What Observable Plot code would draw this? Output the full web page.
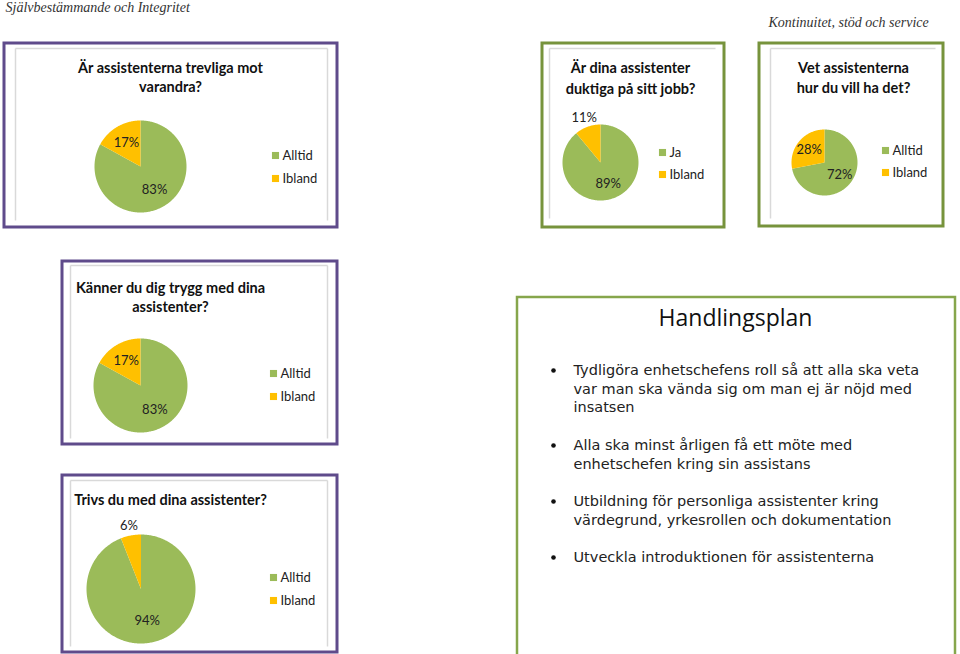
<!DOCTYPE html>
<html><head><meta charset="utf-8">
<script src="https://cdn.jsdelivr.net/npm/d3@7"></script>
<script src="https://cdn.jsdelivr.net/npm/@observablehq/plot@0.6"></script>
<style>body{margin:0;background:#fff;overflow:hidden}</style>
</head><body><div id="chart"></div>
<script>
// ---------- DATA ----------
const sectionHeaders = ["Självbestämmande och Integritet", "Kontinuitet, stöd och service"];
const questionTitles = [
  ["Är assistenterna trevliga mot", "varandra?"],
  ["Är dina assistenter", "duktiga på sitt jobb?"],
  ["Vet assistenterna", "hur du vill ha det?"],
  ["Känner du dig trygg med dina", "assistenter?"],
  ["Trivs du med dina assistenter?"]
];
const answerCategories = [
  ["Alltid", "Ibland"],
  ["Ja", "Ibland"],
  ["Alltid", "Ibland"],
  ["Alltid", "Ibland"],
  ["Alltid", "Ibland"]
];
const answerValues = [
  [83, 17],
  [89, 11],
  [72, 28],
  [83, 17],
  [94, 6]
];
const planTitle = "Handlingsplan";
const planItems = [
  ["Tydligöra enhetschefens roll så att alla ska veta", "var man ska vända sig om man ej är nöjd med", "insatsen"],
  ["Alla ska minst årligen få ett möte med", "enhetschefen kring sin assistans"],
  ["Utbildning för personliga assistenter kring", "värdegrund, yrkesrollen och dokumentation"],
  ["Utveckla introduktionen för assistenterna"]
];

// ---------- LAYOUT & STYLE ----------
const W = 960, H = 654;
const purple = "#5F4B8B", olive = "#77933C";
const sliceColors = ["#9BBB59", "#FFC000"];
const panels = [
  {frame: [4, 43, 337, 227], inner: [15, 48, 327, 220], grayRight: true, border: purple, cx: 140, cy: 166, r: 46, titleX: 170, titleY: [68, 87], legX: 275, legY: [155, 178]},
  {frame: [542, 43, 724, 227], inner: [549, 48, 715, 218], grayRight: false, border: olive, cx: 600, cy: 162, r: 38, titleX: 630, titleY: [68, 89], legX: 662, legY: [152, 174]},
  {frame: [759, 43, 943, 226], inner: [770, 48, 935, 218], grayRight: false, border: olive, cx: 824, cy: 162, r: 33, titleX: 853, titleY: [68, 88], legX: 885, legY: [150, 172]},
  {frame: [62, 261, 337, 444], inner: [70, 265, 327, 438], grayRight: true, border: purple, cx: 140, cy: 385, r: 47, titleX: 170, titleY: [288, 307], legX: 273, legY: [373, 396]},
  {frame: [62, 475, 337, 652], inner: [70, 480, 327, 646], grayRight: true, border: purple, cx: 140.5, cy: 588.5, r: 54.5, titleX: 170, titleY: [500], legX: 273, legY: [577, 600]}
];
const planBox = {frame: [517, 297, 955, 662], titleX: 735, titleY: 318, bulletX: 553, textX: 573, itemY: [370, 445, 501, 557], lineStep: 18.6};

// ---------- BUILD ROWS ----------
const pieFn = d3.pie().sort(null).value(d => d);
const sliceRows = [], labelRows = [], legendRows = [], titleRows = [], grayRows = [];
panels.forEach((p, i) => {
  const arcs = pieFn(answerValues[i]);
  arcs.forEach((a, j) => {
    const id = i + "-" + j;
    const steps = Math.max(2, Math.ceil((a.endAngle - a.startAngle) / (Math.PI / 180)));
    sliceRows.push({id, x: p.cx, y: p.cy, color: sliceColors[j]});
    for (let k = 0; k <= steps; k++) {
      const t = a.startAngle + (a.endAngle - a.startAngle) * k / steps;
      sliceRows.push({id, x: p.cx + p.r * Math.sin(t), y: p.cy - p.r * Math.cos(t), color: sliceColors[j]});
    }
    const mid = (a.startAngle + a.endAngle) / 2;
    const rr = a.data < 12 ? p.r + 10 : p.r * 0.6;
    labelRows.push({x: p.cx + rr * Math.sin(mid), y: p.cy - rr * Math.cos(mid), text: a.data + "%"});
    legendRows.push({x: p.legX, y: p.legY[j], color: sliceColors[j], text: answerCategories[i][j]});
  });
  questionTitles[i].forEach((line, k) => titleRows.push({x: p.titleX, y: p.titleY[k], text: line}));
  const [x1, y1, x2, y2] = p.inner;
  grayRows.push({x1, y1, x2, y2: y1});
  grayRows.push({x1, y1, x2: x1, y2});
  if (p.grayRight) grayRows.push({x1: x2, y1, x2, y2});
});
const planRows = [], bulletRows = [];
planItems.forEach((lines, i) => {
  bulletRows.push({x: planBox.bulletX, y: planBox.itemY[i]});
  lines.forEach((t, k) => planRows.push({x: planBox.textX, y: planBox.itemY[i] + k * planBox.lineStep, text: t}));
});
const headerRows = [
  {x: 5, y: 7, text: sectionHeaders[0], anchor: "start"},
  {x: 768, y: 22, text: sectionHeaders[1], anchor: "start"}
];

// ---------- PLOT ----------
const chart = Plot.plot({
  width: W, height: H, margin: 0,
  x: {domain: [0, W], range: [0, W], axis: null},
  y: {domain: [0, H], range: [0, H], axis: null},
  color: {type: "identity"},
  style: {background: "#fff", overflow: "hidden"},
  marks: [
    Plot.rect(panels, {x1: p => p.frame[0], y1: p => p.frame[1], x2: p => p.frame[2], y2: p => p.frame[3], fill: "white", stroke: p => p.border, strokeWidth: 3}),
    Plot.rect([planBox], {x1: p => p.frame[0], y1: p => p.frame[1], x2: p => p.frame[2], y2: p => p.frame[3], fill: "white", stroke: "#86A64C", strokeWidth: 2.5}),
    Plot.link(grayRows, {x1: "x1", y1: "y1", x2: "x2", y2: "y2", stroke: "#D9D9D9", strokeWidth: 1.5}),
    Plot.line(sliceRows, {x: "x", y: "y", z: "id", fill: "color", stroke: null, curve: "linear-closed"}),
    Plot.text(labelRows, {x: "x", y: "y", text: "text", fontSize: 13, fontFamily: "Lato", fill: "#222"}),
    Plot.dot(legendRows, {x: "x", y: "y", symbol: "square", r: 4, fill: "color", stroke: null}),
    Plot.text(legendRows, {x: d => d.x + 7, y: "y", text: "text", textAnchor: "start", fontSize: 13, fontFamily: "Lato", fill: "#222"}),
    Plot.text(titleRows, {x: "x", y: "y", text: "text", fontSize: 14.5, fontWeight: "bold", fontFamily: "Lato", fill: "#111"}),
    Plot.text(headerRows, {x: "x", y: "y", text: "text", textAnchor: "start", fontSize: 14, fontStyle: "italic", fontFamily: "Liberation Serif", fill: "#333"}),
    Plot.text([planTitle], {x: planBox.titleX, y: planBox.titleY, text: d => d, fontSize: 23, fontFamily: "Open Sans", fill: "#111"}),
    Plot.dot(bulletRows, {x: "x", y: "y", r: 2.3, fill: "#111", stroke: null}),
    Plot.text(planRows, {x: "x", y: "y", text: "text", textAnchor: "start", fontSize: 14.5, fontFamily: "DejaVu Sans", fill: "#222"})
  ]
});
document.getElementById("chart").appendChild(chart);
</script>
</body></html>
